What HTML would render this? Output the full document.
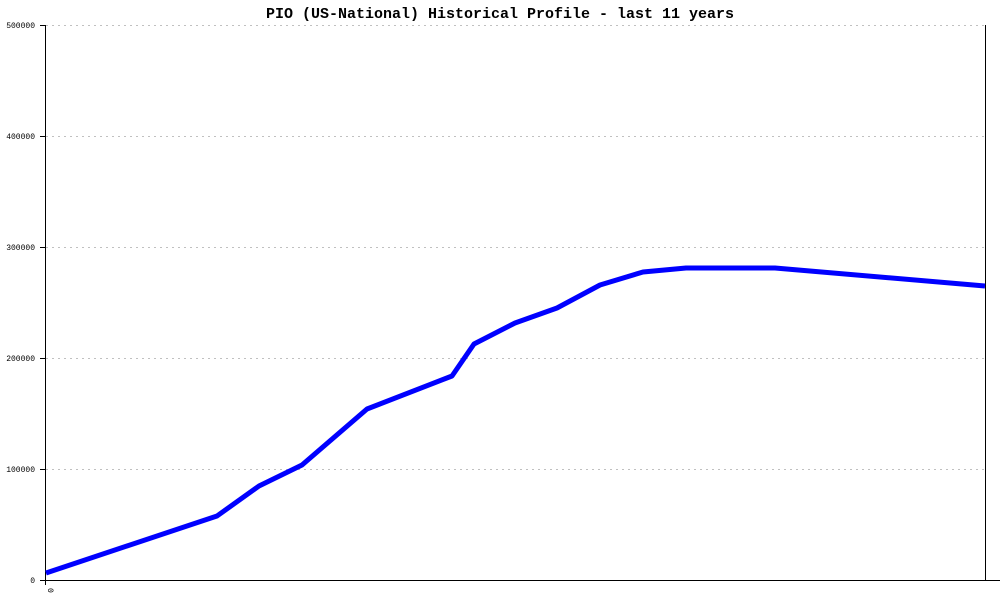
<!DOCTYPE html>
<html><head><style>
body{margin:0;background:#fff;width:1000px;height:600px;overflow:hidden}
</style></head><body>
<svg width="1000" height="600" xmlns="http://www.w3.org/2000/svg" font-family="Liberation Mono, monospace">
<rect width="1000" height="600" fill="#fff"/>
<text x="500" y="18" text-anchor="middle" font-size="15" font-weight="bold" fill="#000">PIO (US-National) Historical Profile - last 11 years</text>
<g stroke="#c0c0c0" stroke-width="1" stroke-dasharray="2,4">
<line x1="46" y1="25.5" x2="985" y2="25.5"/>
<line x1="46" y1="136.5" x2="985" y2="136.5"/>
<line x1="46" y1="247.5" x2="985" y2="247.5"/>
<line x1="46" y1="358.5" x2="985" y2="358.5"/>
<line x1="46" y1="469.5" x2="985" y2="469.5"/>
</g>
<g stroke="#000" stroke-width="1">
<line x1="45.5" y1="25" x2="45.5" y2="581"/>
<line x1="40" y1="580.5" x2="1000" y2="580.5"/>
<line x1="985.5" y1="25" x2="985.5" y2="580"/>
<line x1="40" y1="25.5" x2="46" y2="25.5"/>
<line x1="40" y1="136.5" x2="46" y2="136.5"/>
<line x1="40" y1="247.5" x2="46" y2="247.5"/>
<line x1="40" y1="358.5" x2="46" y2="358.5"/>
<line x1="40" y1="469.5" x2="46" y2="469.5"/>
<line x1="45.5" y1="580" x2="45.5" y2="585"/>
</g>
<g font-size="8" text-anchor="end" fill="#000">
<text x="35" y="28">500000</text>
<text x="35" y="139">400000</text>
<text x="35" y="250">300000</text>
<text x="35" y="361">200000</text>
<text x="35" y="472">100000</text>
<text x="35" y="583">0</text>
</g>
<text x="0" y="0" font-size="8" transform="translate(48,588) rotate(90)" text-anchor="start">0</text>
<polyline fill="none" stroke="#0000ff" stroke-width="5" stroke-linejoin="round"
points="46,573 217,516 259,486 302,465 367,409 452,376 474,344 515,323 557,308 600,285 643,272 686,268 775,268 985,286"/>
</svg>
</body></html>
